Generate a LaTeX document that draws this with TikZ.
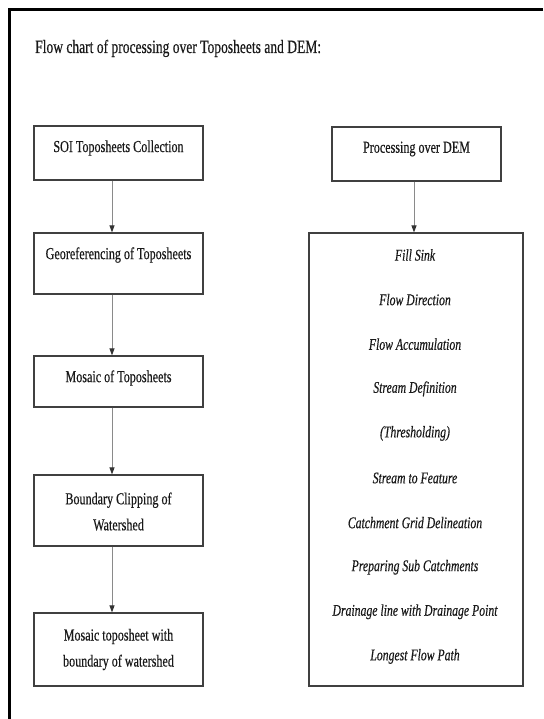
\documentclass[tikz,border=0pt]{standalone}
\usepackage{fontspec}
\setmainfont{Liberation Serif}
\newfontfamily\condfont[FakeStretch=0.72,FakeBold=0.4]{Liberation Serif}
\usetikzlibrary{arrows.meta}
\definecolor{boxline}{HTML}{404040}
\definecolor{arrline}{HTML}{8A8A8A}
\tikzset{
  stepbox/.style={draw=boxline, line width=1.2pt, minimum width=169pt, inner sep=0pt},
  boxtext/.style={font=\condfont\fontsize{16.8}{26}\selectfont, text=black!90, align=center, inner sep=0pt},
  itemtext/.style={font=\condfont\itshape\fontsize{16.3}{18}\selectfont, text=black!90, inner sep=0pt},
  flowarrow/.style={draw=arrline, line width=1pt, -{Triangle[width=5pt,length=7pt,color=black!80]}},
}
\begin{document}
\begin{tikzpicture}[x=1pt,y=-1pt]
\useasboundingbox (0,0) rectangle (543,719);
% outer frame (top and left only)
\draw[line width=2.7pt, black] (543,9.7) -- (9.7,9.7) -- (9.7,719);
% title
\node[anchor=base west, inner sep=0pt, font=\condfont\fontsize{18.8}{22}\selectfont, text=black!90] (title) at (35,53) {Flow chart of processing over Toposheets and DEM:};
% left column boxes
\node[stepbox, minimum height=54pt] (b1) at (118.5,153) {};
\node[stepbox, minimum height=61pt] (b2) at (118.5,263.5) {};
\node[stepbox, minimum height=51pt] (b3) at (118.5,381.5) {};
\node[stepbox, minimum height=71pt] (b4) at (118.5,510.5) {};
\node[stepbox, minimum height=73pt] (b5) at (118.5,649.5) {};
\node[boxtext] (t1) at (118.5,148) {SOI Toposheets Collection};
\node[boxtext] (t2) at (118.5,255) {Georeferencing of Toposheets};
\node[boxtext] (t3) at (118.5,378) {Mosaic of Toposheets};
\node[boxtext] (t4) at (118.5,511.5) {Boundary Clipping of\\Watershed};
\node[boxtext] (t5) at (118.5,649.5) {Mosaic toposheet with\\boundary of watershed};
% right column
\node[stepbox, minimum height=54pt] (d1) at (416.5,154) {};
\node[boxtext] (dt1) at (416.5,149) {Processing over DEM};
\node[stepbox, minimum width=214pt, minimum height=453pt, line width=1.1pt] (d2) at (416,459.5) {};
\foreach \txt [count=\i from 0] in {Fill Sink, Flow Direction, Flow Accumulation, Stream Definition, (Thresholding), Stream to Feature, Catchment Grid Delineation, Preparing Sub Catchments, Drainage line with Drainage Point, Longest Flow Path}{
  \node[itemtext] (s\i) at (415,{255+44.6*\i}) {\txt};
}
% arrows
\draw[flowarrow] ([xshift=-6.5pt]b1.south) -- ([xshift=-6.5pt]b2.north);
\draw[flowarrow] ([xshift=-6.5pt]b2.south) -- ([xshift=-6.5pt]b3.north);
\draw[flowarrow] ([xshift=-6.5pt]b3.south) -- ([xshift=-6.5pt]b4.north);
\draw[flowarrow] ([xshift=-6.5pt]b4.south) -- ([xshift=-6.5pt]b5.north);
\draw[flowarrow] ([xshift=-2.5pt]d1.south) -- ([xshift=-2.5pt]d1.south |- d2.north);
\end{tikzpicture}
\end{document}
